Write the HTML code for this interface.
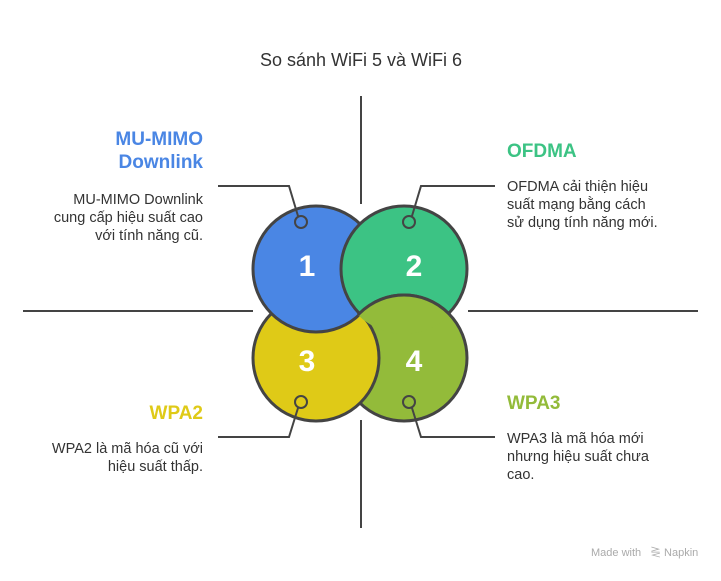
<!DOCTYPE html>
<html><head><meta charset="utf-8"><style>
html,body{margin:0;padding:0;background:#fff}
svg text{font-family:"Liberation Sans","Noto Sans CJK SC",sans-serif}
</style></head><body>
<svg width="721" height="576" viewBox="0 0 721 576" xmlns="http://www.w3.org/2000/svg">
<defs>
<clipPath id="in1"><circle cx="316" cy="269" r="65"/></clipPath>
<clipPath id="in2"><circle cx="404" cy="269" r="65"/></clipPath>
</defs>
<text x="361" y="66" text-anchor="middle" font-size="18" fill="#333">So sánh WiFi 5 và WiFi 6</text>
<g stroke="#444" stroke-width="2" fill="none">
<line x1="361" y1="96" x2="361" y2="204"/>
<line x1="361" y1="420" x2="361" y2="528"/>
<line x1="23" y1="311" x2="253" y2="311"/>
<line x1="468" y1="311" x2="698" y2="311"/>
</g>
<g stroke="#444" stroke-width="3">
<circle cx="404" cy="269" r="63" fill="#3cc384"/>
<circle cx="404" cy="358" r="63" fill="#93bb3a"/>
<circle cx="316" cy="358" r="63" fill="#dfca17"/>
<circle cx="316" cy="269" r="63" fill="#4a86e4"/>
<circle cx="404" cy="269" r="63" fill="#3cc384" clip-path="url(#in1)"/>
<circle cx="404" cy="358" r="63" fill="#93bb3a" clip-path="url(#in2)"/>
</g>
<g font-size="30" font-weight="bold" fill="#fff" text-anchor="middle">
<text x="307" y="276">1</text><text x="414" y="276">2</text>
<text x="307" y="371">3</text><text x="414" y="371">4</text>
</g>
<g stroke="#444" stroke-width="2" fill="none">
<polyline points="218,186 289,186 298,216"/>
<circle cx="301" cy="222" r="6"/>
<polyline points="495,186 421,186 412,216"/>
<circle cx="409" cy="222" r="6"/>
<polyline points="218,437 289,437 298,408"/>
<circle cx="301" cy="402" r="6"/>
<polyline points="495,437 421,437 412,408"/>
<circle cx="409" cy="402" r="6"/>
</g>
<g font-size="19" font-weight="bold">
<text x="203" y="145" text-anchor="end" fill="#4a86e4">MU-MIMO</text>
<text x="203" y="168" text-anchor="end" fill="#4a86e4">Downlink</text>
<text x="507" y="157" fill="#3cc384">OFDMA</text>
<text x="203" y="419" text-anchor="end" fill="#dfca17">WPA2</text>
<text x="507" y="409" fill="#93bb3a">WPA3</text>
</g>
<g font-size="14.5" fill="#333">
<text x="203" y="204" text-anchor="end">MU-MIMO Downlink</text>
<text x="203" y="222" text-anchor="end">cung cấp hiệu suất cao</text>
<text x="203" y="240" text-anchor="end">với tính năng cũ.</text>
<text x="507" y="191">OFDMA cải thiện hiệu</text>
<text x="507" y="209">suất mạng bằng cách</text>
<text x="507" y="227">sử dụng tính năng mới.</text>
<text x="203" y="453" text-anchor="end">WPA2 là mã hóa cũ với</text>
<text x="203" y="471" text-anchor="end">hiệu suất thấp.</text>
<text x="507" y="443">WPA3 là mã hóa mới</text>
<text x="507" y="461">nhưng hiệu suất chưa</text>
<text x="507" y="479">cao.</text>
</g>
<text x="591" y="556" font-size="11" fill="#aaa">Made with</text>
<text x="650" y="556" font-size="11" fill="#aaa">⋛ Napkin</text>
</svg>
</body></html>
